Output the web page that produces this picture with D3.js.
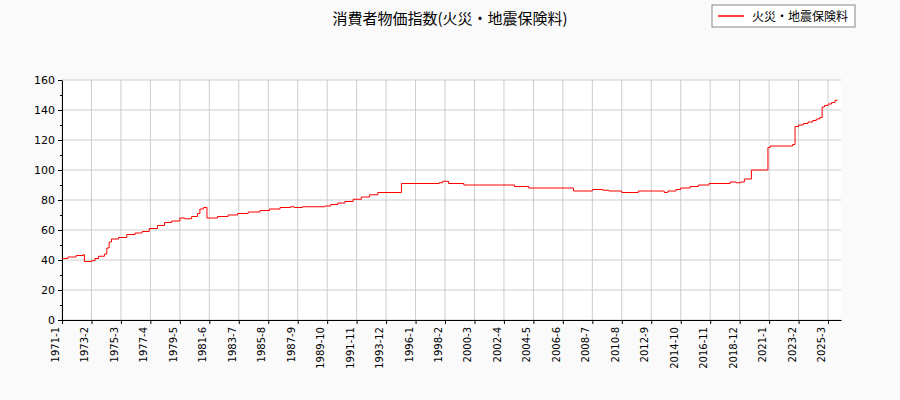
<!DOCTYPE html>
<html><head><meta charset="utf-8">
<script src="https://cdn.jsdelivr.net/npm/d3@7"></script>
<style>body{margin:0;background:#fafafa;font-family:"DejaVu Sans",sans-serif}</style>
</head><body><svg id="chart" width="900" height="400"></svg>
<script>
// breakpoints: value holds from this month until the next one
const months = ["1971-1","1971-6","1972-1","1972-7","1972-8","1973-2","1973-5","1973-8","1974-1","1974-3","1974-5","1974-7","1975-1","1975-8","1976-3","1976-9","1977-3","1977-10","1978-4","1978-10","1979-5","1979-9","1980-3","1980-8","1980-10","1981-1","1981-4",
"1982-1","1982-10","1983-6","1984-3","1985-1","1985-9","1986-6","1987-3","1987-6","1988-1","1989-8","1990-1","1990-7","1991-1","1991-8","1992-3","1992-10","1993-5","1995-1","1997-9","1997-12","1998-5","1999-6","2001-6","2003-1","2004-1","2007-3",
"2008-7","2009-4","2009-9","2010-8","2011-10","2013-8","2013-11","2014-6","2014-10","2015-6","2016-1","2016-10","2018-4","2018-9","2019-1","2019-4","2019-10","2020-12","2021-2","2022-9","2022-11","2023-2","2023-6","2023-10","2024-2","2024-5","2024-8","2024-10","2024-12","2025-3","2025-6","2025-9","2025-11"];
const values = [41,42,43,43.5,39,39.5,41,42.5,44,48,52,54,55,57,58,59,61,63,65,66,68,67.5,69,71,74,75,68,
69,70,71,72,73,74,75,75.5,75,75.5,76,77,78,79,80.5,82,83.5,85,91,91.5,92.5,91,90,90,89,88,86,
87,86.5,86,85,86,85,86,87,88,89,90,91,92,91.5,92,94,100,115,116,117,129,130,131,132,133,134,135,142,143,144,145,146.5,146.5];
const xTickLabels = ["1971-1","1973-2","1975-3","1977-4","1979-5","1981-6","1983-7","1985-8","1987-9","1989-10","1991-11","1993-12","1996-1","1998-2","2000-3","2002-4","2004-5","2006-6","2008-7","2010-8","2012-9","2014-10","2016-11","2018-12","2021-1","2023-2","2025-3"];
const yTicks = [0,20,40,60,80,100,120,140,160];

const idx = s => { const [y, m] = s.split("-").map(Number); return (y - 1971) * 12 + m - 1; };
const svg = d3.select("#chart");
const L = 62, R = 841, T = 80, B = 320;
const x = d3.scaleLinear().domain([0, 661]).range([L, R]);
const y = d3.scaleLinear().domain([0, 160]).range([B, T]);

svg.append("rect").attr("x", L).attr("y", T).attr("width", R - L).attr("height", B - T).attr("fill", "#fff");
const g = svg.append("g");
g.selectAll(".gy").data(yTicks).join("line").attr("x1", L).attr("x2", R)
  .attr("y1", d => y(d)).attr("y2", d => y(d)).attr("stroke", "#ccc");
g.selectAll(".gx").data(xTickLabels).join("line").attr("y1", T).attr("y2", B)
  .attr("x1", d => x(idx(d))).attr("x2", d => x(idx(d))).attr("stroke", "#ccc");

const yAxis = d3.axisLeft(y).tickValues(yTicks).tickSize(4).tickSizeOuter(0);
svg.append("g").attr("transform", `translate(${L},0)`).call(yAxis)
  .call(a => a.selectAll("text").attr("font-size", 11).attr("fill", "#000").attr("font-family", "DejaVu Sans"));
svg.append("g").attr("transform", `translate(${L},0)`)
  .call(d3.axisLeft(y).tickValues(d3.range(10, 160, 20)).tickSize(2).tickFormat(""))
  .call(a => a.select(".domain").remove());
const xAxis = d3.axisBottom(x).tickValues(xTickLabels.map(idx)).tickFormat((d, i) => xTickLabels[i]).tickSize(4).tickSizeOuter(0);
svg.append("g").attr("transform", `translate(0,${B})`).call(xAxis)
  .call(a => a.selectAll("text").attr("font-size", 10).attr("fill", "#000").attr("font-family", "DejaVu Sans")
    .attr("transform", "rotate(-90)").attr("text-anchor", "end").attr("dx", "-7").attr("dy", "-0.35em").attr("x", 0).attr("y", 0));
svg.selectAll(".domain").attr("stroke", "#000");

const line = d3.line().x(d => x(idx(d[0]))).y(d => y(d[1])).curve(d3.curveStepAfter);
svg.append("path").datum(months.map((m, i) => [m, values[i]])).attr("d", line)
  .attr("fill", "none").attr("stroke", "red").attr("stroke-width", 1);

svg.append("text").attr("x", 450).attr("y", 24).attr("text-anchor", "middle").attr("font-size", 15)
  .attr("font-family", "'Noto Sans CJK JP',sans-serif").text("消費者物価指数(火災・地震保険料)");
const lg = svg.append("g").attr("transform", "translate(712,5)");
lg.append("rect").attr("width", 143).attr("height", 22).attr("fill", "#fff").attr("stroke", "#888");
lg.append("line").attr("x1", 6).attr("x2", 32).attr("y1", 11).attr("y2", 11).attr("stroke", "red").attr("stroke-width", 1.5);
lg.append("text").attr("x", 40).attr("y", 15.5).attr("font-size", 12)
  .attr("font-family", "'Noto Sans CJK JP',sans-serif").text("火災・地震保険料");
</script></body></html>
